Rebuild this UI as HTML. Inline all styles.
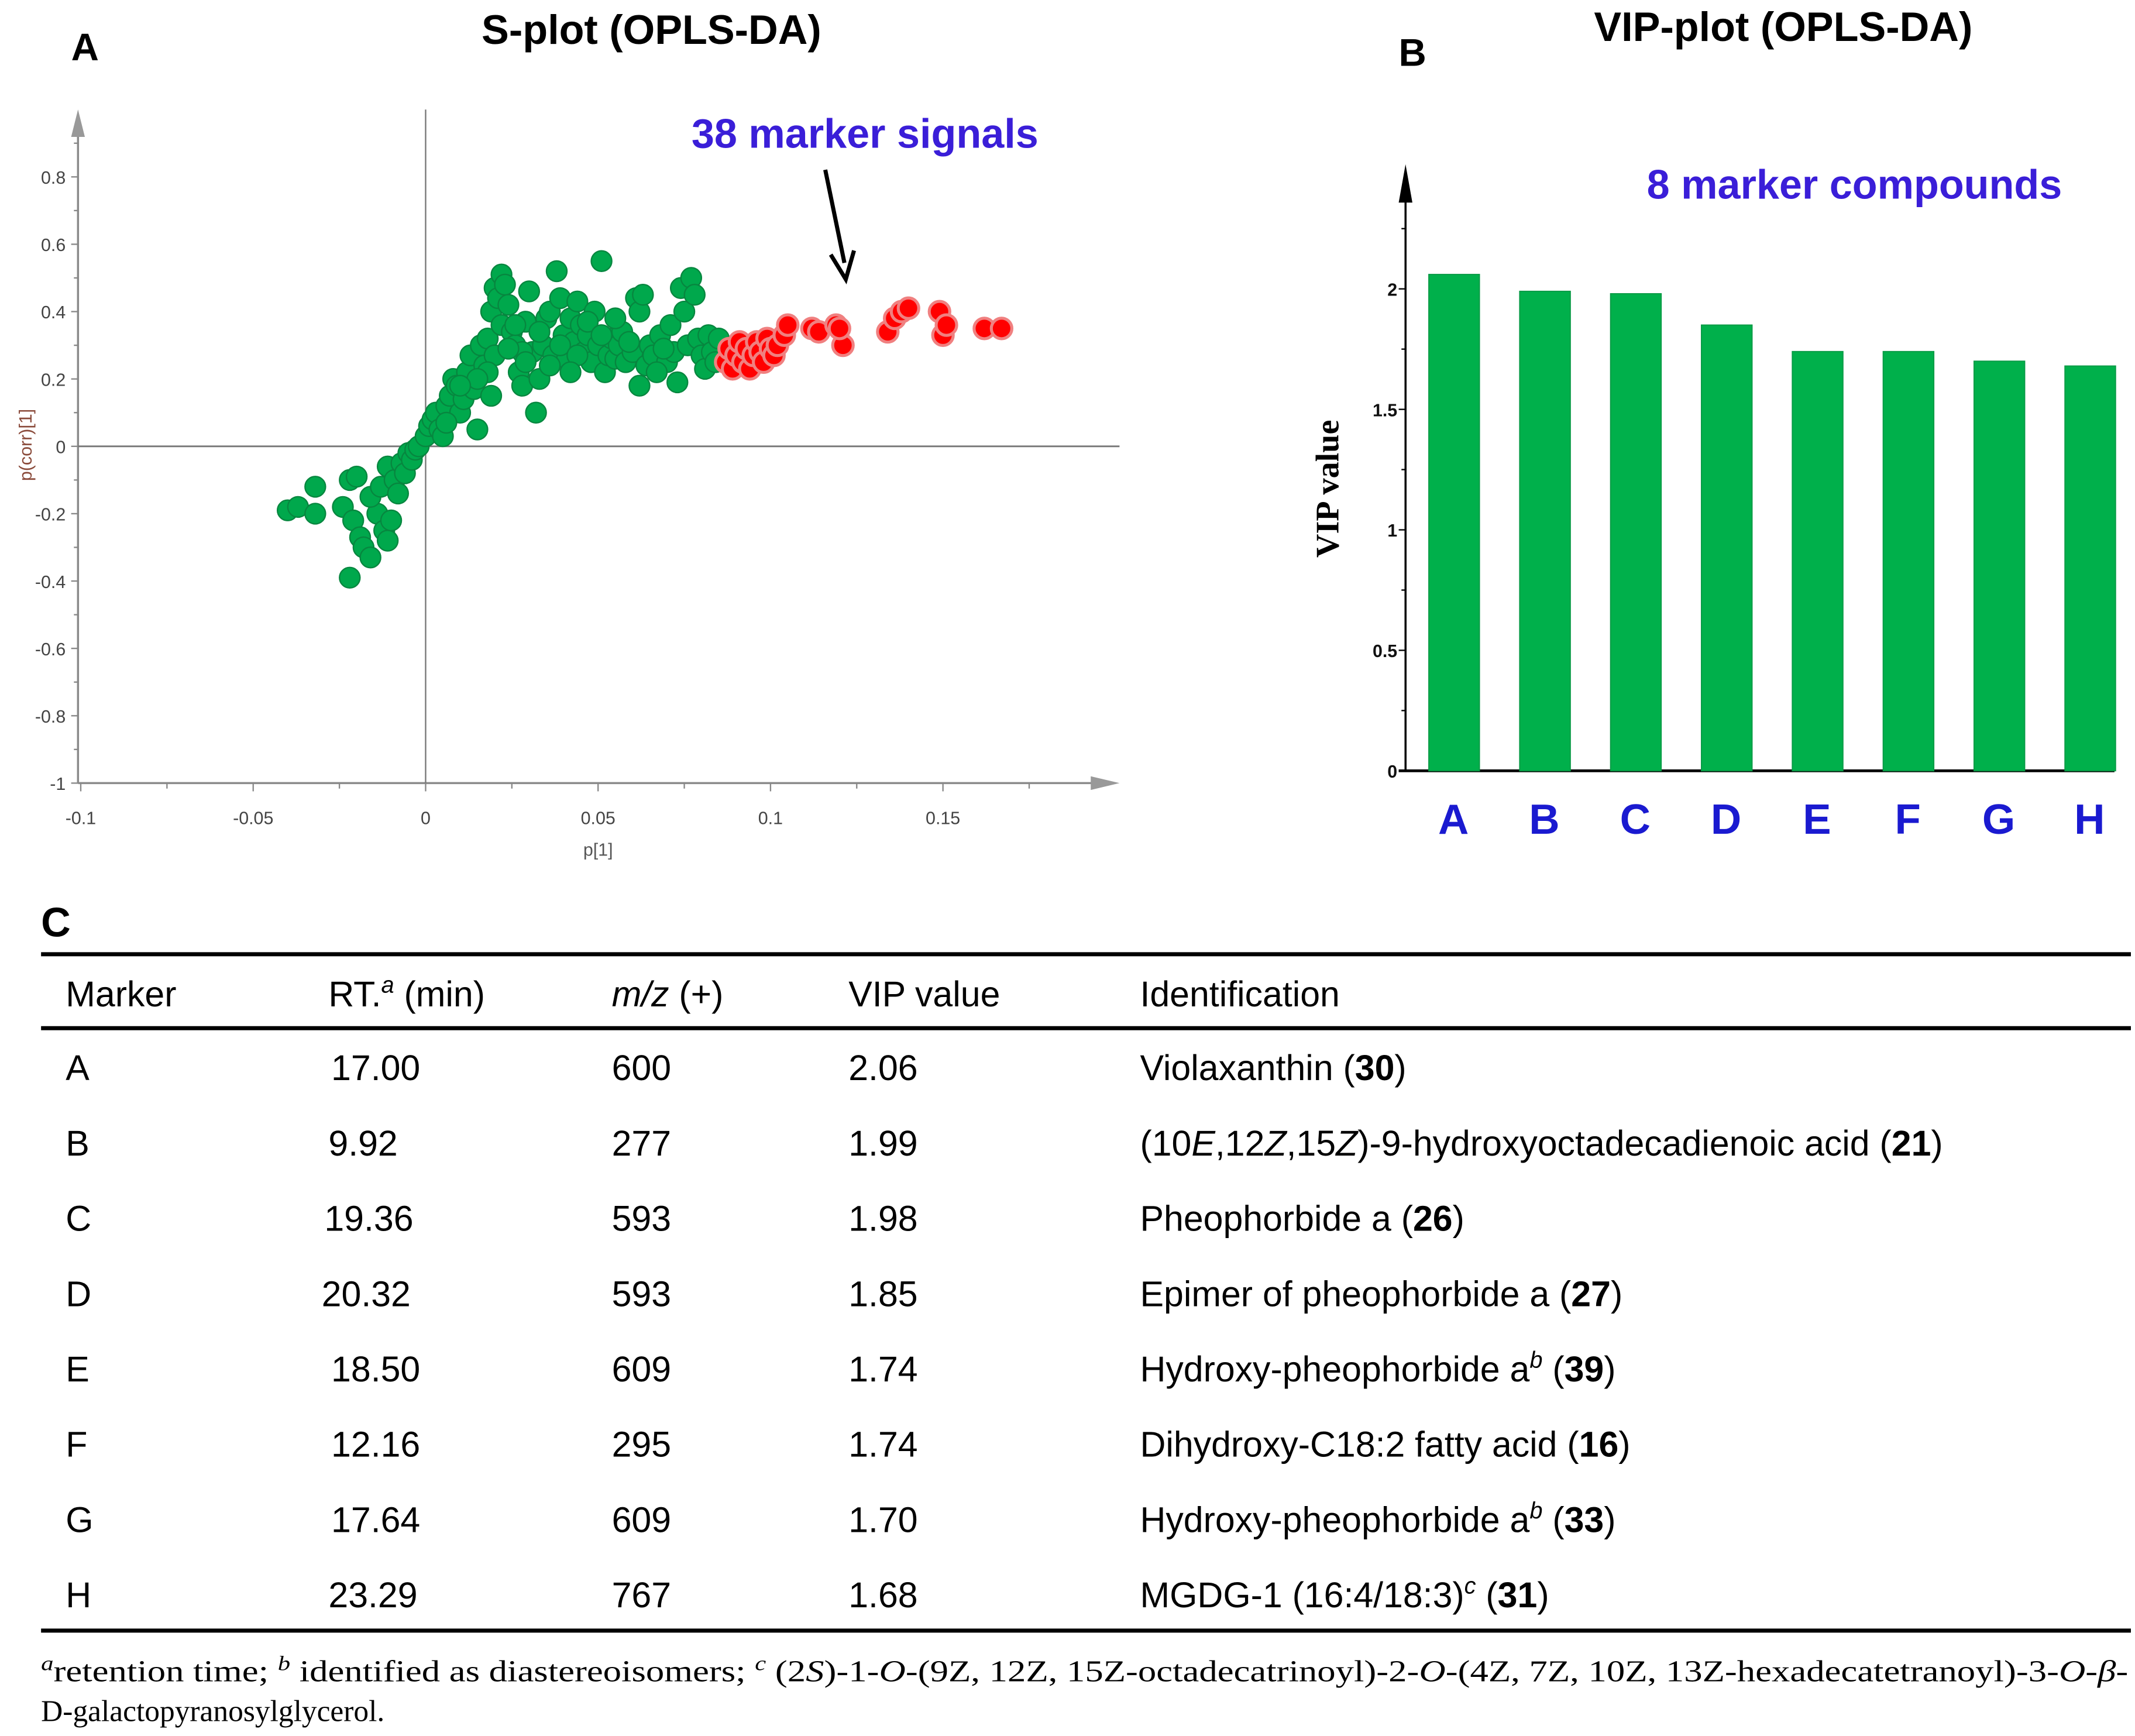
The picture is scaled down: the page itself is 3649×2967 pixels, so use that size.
<!DOCTYPE html>
<html><head><meta charset="utf-8">
<style>
html,body{margin:0;padding:0;background:#fff;}
svg{display:block;}
.sans{font-family:"Liberation Sans",Arial,sans-serif;}
.serif{font-family:"Liberation Serif","Times New Roman",serif;}
</style></head>
<body>
<svg id="fig" width="3649" height="2967" viewBox="0 0 1560 1268" preserveAspectRatio="none" xmlns="http://www.w3.org/2000/svg">
  <!-- Panel A -->
  <g id="panelA">
    <text x="52" y="44" class="sans" font-size="28" font-weight="bold">A</text>
    <text x="476" y="32" class="sans" font-size="30" font-weight="bold" text-anchor="middle">S-plot (OPLS-DA)</text>
    <g id="aAxes"></g>
    <g id="aPts"></g>
    <text x="632" y="108" class="sans" font-size="30" font-weight="bold" fill="#3a1ed8" text-anchor="middle">38 marker signals</text>
    <line x1="603" y1="124" x2="617" y2="192" stroke="#000" stroke-width="3"/>
    <path d="M607,186 L618,204 L624,183" fill="none" stroke="#000" stroke-width="3"/>
    <text x="437" y="625" class="sans" font-size="13" fill="#555" text-anchor="middle">p[1]</text>
    <text x="23" y="325" class="sans" font-size="13" fill="#8a4a3a" text-anchor="middle" transform="rotate(-90 23 325)">p(corr)[1]</text>
  </g>
  <!-- Panel B -->
  <g id="panelB">
    <text x="1022" y="48" class="sans" font-size="28" font-weight="bold">B</text>
    <text x="1303" y="30" class="sans" font-size="30" font-weight="bold" text-anchor="middle">VIP-plot (OPLS-DA)</text>
    <text x="1355" y="145" class="sans" font-size="30" font-weight="bold" fill="#3a1ed8" text-anchor="middle">8 marker compounds</text>
    <g id="bAxes"></g>
    <g id="bBars"></g>
    <text x="978" y="357" class="serif" font-size="24" font-weight="bold" text-anchor="middle" transform="rotate(-90 978 357)">VIP value</text>
  </g>
  <!-- Panel C table -->
  <g id="panelC" class="sans">
    <text x="30" y="684" font-size="30" font-weight="bold">C</text>
    <line x1="30" y1="697" x2="1557" y2="697" stroke="#000" stroke-width="3"/>
    <line x1="30" y1="751" x2="1557" y2="751" stroke="#000" stroke-width="3"/>
    <line x1="30" y1="1191" x2="1557" y2="1191" stroke="#000" stroke-width="3"/>
    <g font-size="26">
      <text x="48" y="735">Marker</text>
      <text x="240" y="735">RT.<tspan font-style="italic" font-size="17" dy="-10">a</tspan><tspan dy="10"> (min)</tspan></text>
      <text x="447" y="735"><tspan font-style="italic">m/z</tspan> (+)</text>
      <text x="620" y="735">VIP  value</text>
      <text x="833" y="735">Identification</text>
    </g>
    <g font-size="26">
      <text x="48" y="789">A</text><text x="242" y="789">17.00</text><text x="447" y="789">600</text><text x="620" y="789">2.06</text>
      <text x="833" y="789">Violaxanthin  (<tspan font-weight="bold">30</tspan>)</text>
      <text x="48" y="844">B</text><text x="240" y="844">9.92</text><text x="447" y="844">277</text><text x="620" y="844">1.99</text>
      <text x="833" y="844">(10<tspan font-style="italic">E</tspan>,12<tspan font-style="italic">Z</tspan>,15<tspan font-style="italic">Z</tspan>)-9-hydroxyoctadecadienoic  acid (<tspan font-weight="bold">21</tspan>)</text>
      <text x="48" y="899">C</text><text x="237" y="899">19.36</text><text x="447" y="899">593</text><text x="620" y="899">1.98</text>
      <text x="833" y="899">Pheophorbide a (<tspan font-weight="bold">26</tspan>)</text>
      <text x="48" y="954">D</text><text x="235" y="954">20.32</text><text x="447" y="954">593</text><text x="620" y="954">1.85</text>
      <text x="833" y="954">Epimer of pheophorbide a (<tspan font-weight="bold">27</tspan>)</text>
      <text x="48" y="1009">E</text><text x="242" y="1009">18.50</text><text x="447" y="1009">609</text><text x="620" y="1009">1.74</text>
      <text x="833" y="1009">Hydroxy-pheophorbide  a<tspan font-style="italic" font-size="17" dy="-10">b</tspan><tspan dy="10"> (<tspan font-weight="bold">39</tspan>)</tspan></text>
      <text x="48" y="1064">F</text><text x="242" y="1064">12.16</text><text x="447" y="1064">295</text><text x="620" y="1064">1.74</text>
      <text x="833" y="1064">Dihydroxy-C18:2 fatty acid (<tspan font-weight="bold">16</tspan>)</text>
      <text x="48" y="1119">G</text><text x="242" y="1119">17.64</text><text x="447" y="1119">609</text><text x="620" y="1119">1.70</text>
      <text x="833" y="1119">Hydroxy-pheophorbide  a<tspan font-style="italic" font-size="17" dy="-10">b</tspan><tspan dy="10"> (<tspan font-weight="bold">33</tspan>)</tspan></text>
      <text x="48" y="1174">H</text><text x="240" y="1174">23.29</text><text x="447" y="1174">767</text><text x="620" y="1174">1.68</text>
      <text x="833" y="1174">MGDG-1 (16:4/18:3)<tspan font-style="italic" font-size="17" dy="-10">c</tspan><tspan dy="10"> (<tspan font-weight="bold">31</tspan>)</tspan></text>
    </g>
    <g class="serif" font-size="22">
      <text x="30" y="1228" textLength="1525" lengthAdjust="spacingAndGlyphs"><tspan font-style="italic" font-size="15" dy="-8">a</tspan><tspan dy="8">retention time; </tspan><tspan font-style="italic" font-size="15" dy="-8">b</tspan><tspan dy="8"> identified as diastereoisomers; </tspan><tspan font-style="italic" font-size="15" dy="-8">c</tspan><tspan dy="8"> (2</tspan><tspan font-style="italic">S</tspan>)-1-<tspan font-style="italic">O</tspan>-(9Z,  12Z,  15Z-octadecatrinoyl)-2-<tspan font-style="italic">O</tspan>-(4Z,  7Z,  10Z,  13Z-hexadecatetranoyl)-3-<tspan font-style="italic">O</tspan>-<tspan font-style="italic">β</tspan>-</text>
      <text x="30" y="1257">D-galactopyranosylglycerol.</text>
    </g>
  </g>
</svg>
<script>
const NS="http://www.w3.org/2000/svg";
// ---- S-plot data ----
const greenP=[-0.040,-0.037,-0.032,-0.032,-0.022,-0.020,-0.024,-0.021,-0.019,-0.018,-0.016,-0.022,-0.014,-0.012,-0.011,-0.010,-0.016,-0.013,-0.011,-0.009,-0.008,-0.007,-0.006,-0.005,-0.004,-0.003,-0.002,0.000,0.001,0.002,0.003,0.004,0.005,0.006,0.007,0.008,0.009,0.010,0.011,0.012,0.013,0.014,0.015,0.016,0.017,0.018,0.019,0.020,0.021,0.022,0.023,0.022,0.020,0.019,0.018,0.024,0.025,0.026,0.027,0.028,0.029,0.030,0.031,0.032,0.033,0.034,0.035,0.036,0.037,0.038,0.039,0.040,0.041,0.042,0.043,0.044,0.045,0.046,0.047,0.048,0.049,0.050,0.051,0.052,0.053,0.054,0.055,0.056,0.058,0.060,0.061,0.062,0.063,0.062,0.064,0.065,0.066,0.068,0.070,0.071,0.072,0.073,0.074,0.075,0.076,0.077,0.078,0.079,0.080,0.081,0.082,0.083,0.084,0.085,0.026,0.028,0.033,0.036,0.039,0.044,0.047,0.051,0.057,0.059,0.067,0.069,0.015,0.010,0.006,0.024,0.029,0.042,0.055];
const greenCorr=[-0.19,-0.18,-0.12,-0.20,-0.10,-0.09,-0.18,-0.22,-0.27,-0.30,-0.33,-0.39,-0.20,-0.25,-0.28,-0.22,-0.15,-0.12,-0.06,-0.10,-0.14,-0.05,-0.08,-0.02,-0.04,-0.01,0.00,0.03,0.06,0.08,0.10,0.05,0.03,0.12,0.15,0.20,0.18,0.10,0.14,0.22,0.27,0.17,0.05,0.30,0.24,0.32,0.40,0.47,0.44,0.51,0.48,0.36,0.27,0.15,0.22,0.42,0.34,0.30,0.22,0.18,0.37,0.46,0.28,0.10,0.20,0.30,0.38,0.40,0.27,0.52,0.44,0.33,0.26,0.38,0.31,0.43,0.36,0.28,0.33,0.25,0.40,0.30,0.55,0.22,0.27,0.32,0.26,0.30,0.25,0.28,0.44,0.40,0.45,0.18,0.24,0.30,0.27,0.33,0.25,0.36,0.28,0.19,0.47,0.40,0.30,0.50,0.45,0.32,0.27,0.23,0.33,0.28,0.25,0.32,0.36,0.28,0.34,0.24,0.30,0.27,0.37,0.33,0.34,0.31,0.22,0.29,0.20,0.18,0.07,0.29,0.25,0.22,0.38];
const redP=[0.087,0.088,0.089,0.090,0.091,0.092,0.093,0.094,0.095,0.096,0.097,0.098,0.099,0.100,0.101,0.102,0.104,0.105,0.112,0.114,0.119,0.121,0.120,0.134,0.136,0.138,0.140,0.149,0.150,0.151,0.162,0.167];
const redCorr=[0.25,0.29,0.23,0.27,0.31,0.25,0.29,0.23,0.27,0.31,0.28,0.25,0.32,0.29,0.27,0.30,0.33,0.36,0.35,0.34,0.36,0.30,0.35,0.34,0.38,0.40,0.41,0.40,0.33,0.36,0.35,0.35];
const xTickVals=[-0.1,-0.05,0,0.05,0.1,0.15];
const xTickLabels=["-0.1","-0.05","0","0.05","0.1","0.15"];
const yTickVals=[0.8,0.6,0.4,0.2,0,-0.2,-0.4,-0.6,-0.8,-1];
const yTickLabels=["0.8","0.6","0.4","0.2","0","-0.2","-0.4","-0.6","-0.8","-1"];
// ---- VIP data ----
const vipCats=["A","B","C","D","E","F","G","H"];
const vipVals=[2.06,1.99,1.98,1.85,1.74,1.74,1.70,1.68];
const vipTickVals=[0,0.5,1,1.5,2];
const vipTickLabels=["0","0.5","1","1.5","2"];

function mk(tag,attrs,parent){const e=document.createElementNS(NS,tag);for(const k in attrs)e.setAttribute(k,attrs[k]);parent.appendChild(e);return e;}

// S-plot scales
const sx=v=>311+v*2520;
const sy=v=>326-v*246;
const aAx=document.getElementById('aAxes');
let l;
l=mk('line',{x1:57,y1:90,x2:57,y2:572,stroke:'#8a8a8a','stroke-width':1.5},aAx);


l=mk('path',{d:'M52,100 L57,80 L62,100 Z',fill:'#999'},aAx);


l=mk('line',{x1:57,y1:572,x2:805,y2:572,stroke:'#8a8a8a','stroke-width':1.5},aAx);


l=mk('path',{d:'M797,567 L818,572 L797,577 Z',fill:'#999'},aAx);


l=mk('line',{x1:sx(0),y1:80,x2:sx(0),y2:572,stroke:'#777','stroke-width':1},aAx);


l=mk('line',{x1:57,y1:sy(0),x2:818,y2:sy(0),stroke:'#777','stroke-width':1.2},aAx);


for(let i=0;i<yTickVals.length;i++){
  const y=sy(yTickVals[i]);
  const t=mk('line',{x1:52,y1:y,x2:57,y2:y,stroke:'#888'},aAx);
  
  
  const tm=mk('line',{x1:54,y1:y-24.6,x2:57,y2:y-24.6,stroke:'#888'},aAx);
  
  
  const tx=mk('text',{x:48,y:y+5,'text-anchor':'end','font-size':13,fill:'#444','font-family':'Liberation Sans, sans-serif'},aAx);
  tx.textContent=yTickLabels[i];
  
  
}
for(let i=0;i<xTickVals.length;i++){
  const x=sx(xTickVals[i]);
  const t=mk('line',{x1:x,y1:572,x2:x,y2:578,stroke:'#888'},aAx);
  
  
  const tm=mk('line',{x1:x+63,y1:572,x2:x+63,y2:576,stroke:'#888'},aAx);
  
  
  const tx=mk('text',{x:x,y:602,'text-anchor':'middle','font-size':13,fill:'#444','font-family':'Liberation Sans, sans-serif'},aAx);
  tx.textContent=xTickLabels[i];
  
  
}
const aPts=document.getElementById('aPts');
for(let i=0;i<greenP.length;i++){
  const c=mk('circle',{cx:sx(greenP[i]),cy:sy(greenCorr[i]),r:7.5,fill:'#00a84c',stroke:'#07863f','stroke-width':1},aPts);
  
  
}
for(let i=0;i<redP.length;i++){
  const c=mk('circle',{cx:sx(redP[i]),cy:sy(redCorr[i]),r:7.5,fill:'#ff0000',stroke:'#f08080','stroke-width':2.2},aPts);
  
  
}

// VIP scales
const bx=i=>1062+i*66.4;
const by=v=>563-v*176;
const bAx=document.getElementById('bAxes');
l=mk('line',{x1:1027,y1:135,x2:1027,y2:563,stroke:'#000','stroke-width':1.5},bAx);


l=mk('path',{d:'M1022,148 L1027,120 L1032,148 Z',fill:'#000'},bAx);


l=mk('line',{x1:1022,y1:563,x2:1545,y2:563,stroke:'#000','stroke-width':2},bAx);


for(let i=0;i<vipTickVals.length;i++){
  const y=by(vipTickVals[i]);
  const t=mk('line',{x1:1022,y1:y,x2:1027,y2:y,stroke:'#000'},bAx);
  
  
  const tm=mk('line',{x1:1024,y1:y-44,x2:1027,y2:y-44,stroke:'#000'},bAx);
  
  
  const tx=mk('text',{x:1021,y:y+5,'text-anchor':'end','font-size':13,'font-weight':'bold',fill:'#111','font-family':'Liberation Sans, sans-serif'},bAx);
  tx.textContent=vipTickLabels[i];
  
  
}
const bBars=document.getElementById('bBars');
for(let i=0;i<vipCats.length;i++){
  const x=bx(i), v=vipVals[i];
  const r=mk('rect',{x:x-18,y:by(v),width:37,height:by(0)-by(v),fill:'#00b04b',stroke:'#079a45','stroke-width':0.8},bBars);
  
  
  const tx=mk('text',{x:x,y:609,'text-anchor':'middle','font-size':31,'font-weight':'bold',fill:'#1a1ad0','font-family':'Liberation Sans, sans-serif'},bBars);
  tx.textContent=vipCats[i];
  
  
}
</script>
</body></html>
